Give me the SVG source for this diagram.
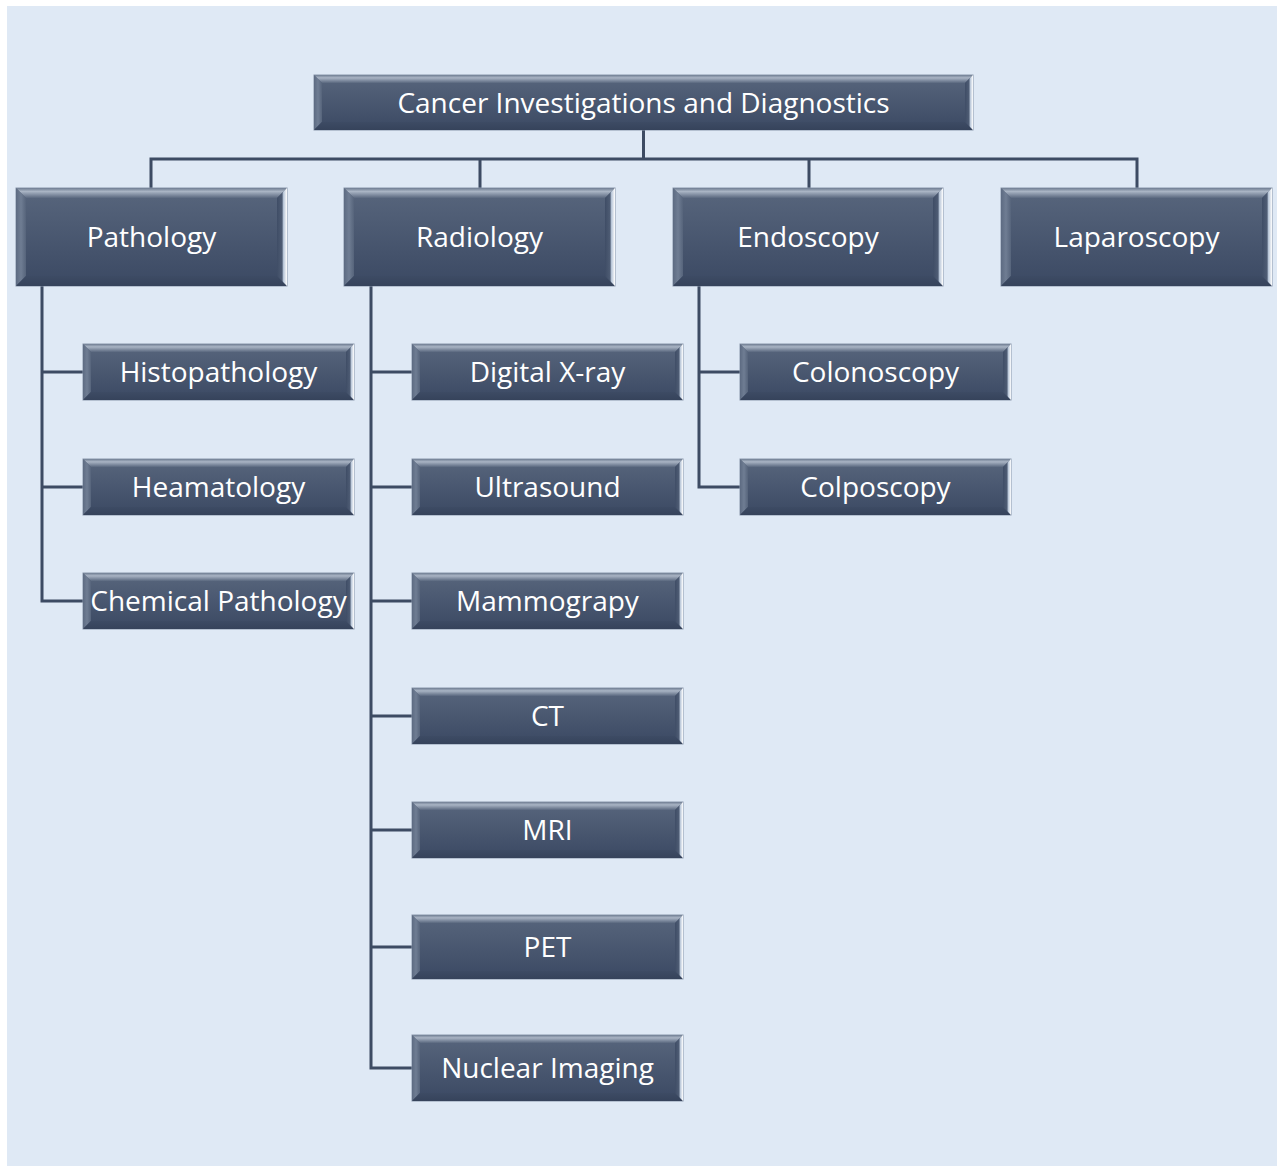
<svg xmlns="http://www.w3.org/2000/svg" width="1277" height="1167" viewBox="0 0 1277 1167">
<defs>
<linearGradient id="gMain" x1="0" y1="0" x2="0" y2="1">
<stop offset="0" stop-color="#58667d"/>
<stop offset="1" stop-color="#3b4963"/>
</linearGradient>
<linearGradient id="gTop" x1="0" y1="0" x2="0" y2="1">
<stop offset="0" stop-color="#6f7d92"/>
<stop offset="0.35" stop-color="#a9b4c4"/>
<stop offset="1" stop-color="#5a687f"/>
</linearGradient>
<linearGradient id="gLeft" x1="0" y1="0" x2="1" y2="0">
<stop offset="0" stop-color="#5d6b82"/>
<stop offset="0.5" stop-color="#6f7d93"/>
<stop offset="1" stop-color="#56647b"/>
</linearGradient>
<linearGradient id="gRight" x1="0" y1="0" x2="1" y2="0">
<stop offset="0" stop-color="#3f4d66"/>
<stop offset="0.5" stop-color="#4e5c74"/>
<stop offset="0.65" stop-color="#b8c6d8"/>
<stop offset="1" stop-color="#ffffff"/>
</linearGradient>
<linearGradient id="gBot" x1="0" y1="0" x2="0" y2="1">
<stop offset="0" stop-color="#3d4b64"/>
<stop offset="1" stop-color="#36435b"/>
</linearGradient>
</defs>
<style>
.bg{fill:#dfe9f5}
.main{fill:url(#gMain);stroke:#8a97ab;stroke-width:1}
.top{fill:url(#gTop)}
.left{fill:url(#gLeft)}
.right{fill:url(#gRight)}
.bot{fill:url(#gBot)}
.lbl{font-family:"Open Sans","Noto Sans","DejaVu Sans",sans-serif;font-size:28px;fill:#ffffff;text-anchor:middle}
.conn{fill:none;stroke:#3d4b63;stroke-width:3;stroke-linejoin:miter}
</style>
<rect x="0" y="0" width="1277" height="1167" fill="#ffffff"/>
<rect class="bg" x="7" y="6" width="1270" height="1160"/>

<g id="connectors">
<path class="conn" d="M643.5,130 V159 M151,188 V159 H1137 V188 M480,159 V188 M809,159 V188"/>
<path class="conn" d="M42,286 V601 H83 M42,372 H83 M42,487 H83"/>
<path class="conn" d="M371,286 V1068 H412 M371,372 H412 M371,487 H412 M371,601 H412 M371,716 H412 M371,830 H412 M371,947 H412"/>
<path class="conn" d="M699,286 V487 H740 M699,372 H740"/>
</g>

<g id="root">
<rect class="main" x="314" y="75" width="659" height="55"/>
<polygon class="top" points="314,75 973,75 965,83 322,83"/>
<polygon class="left" points="314,75 322,83 322,122 314,130"/>
<polygon class="bot" points="314,130 322,122 965,122 973,130"/>
<polygon class="right" points="973,75 965,83 965,122 973,130"/>
<text class="lbl" x="643.5" y="113">Cancer Investigations and Diagnostics</text>
</g>

<g id="pathology">
<rect class="main" x="16" y="188" width="271" height="98"/>
<polygon class="top" points="16,188 287,188 277,198 26,198"/>
<polygon class="left" points="16,188 26,198 26,276 16,286"/>
<polygon class="bot" points="16,286 26,276 277,276 287,286"/>
<polygon class="right" points="287,188 277,198 277,276 287,286"/>
<text class="lbl" x="151.5" y="247">Pathology</text>
</g>

<g id="radiology">
<rect class="main" x="344" y="188" width="271" height="98"/>
<polygon class="top" points="344,188 615,188 605,198 354,198"/>
<polygon class="left" points="344,188 354,198 354,276 344,286"/>
<polygon class="bot" points="344,286 354,276 605,276 615,286"/>
<polygon class="right" points="615,188 605,198 605,276 615,286"/>
<text class="lbl" x="479.5" y="247">Radiology</text>
</g>

<g id="endoscopy">
<rect class="main" x="673" y="188" width="270" height="98"/>
<polygon class="top" points="673,188 943,188 933,198 683,198"/>
<polygon class="left" points="673,188 683,198 683,276 673,286"/>
<polygon class="bot" points="673,286 683,276 933,276 943,286"/>
<polygon class="right" points="943,188 933,198 933,276 943,286"/>
<text class="lbl" x="808" y="247">Endoscopy</text>
</g>

<g id="laparoscopy">
<rect class="main" x="1001" y="188" width="271" height="98"/>
<polygon class="top" points="1001,188 1272,188 1262,198 1011,198"/>
<polygon class="left" points="1001,188 1011,198 1011,276 1001,286"/>
<polygon class="bot" points="1001,286 1011,276 1262,276 1272,286"/>
<polygon class="right" points="1272,188 1262,198 1262,276 1272,286"/>
<text class="lbl" x="1136.5" y="247">Laparoscopy</text>
</g>

<g id="histopathology">
<rect class="main" x="83" y="344" width="271" height="56"/>
<polygon class="top" points="83,344 354,344 346,352 91,352"/>
<polygon class="left" points="83,344 91,352 91,392 83,400"/>
<polygon class="bot" points="83,400 91,392 346,392 354,400"/>
<polygon class="right" points="354,344 346,352 346,392 354,400"/>
<text class="lbl" x="218.5" y="382">Histopathology</text>
</g>

<g id="heamatology">
<rect class="main" x="83" y="459" width="271" height="56"/>
<polygon class="top" points="83,459 354,459 346,467 91,467"/>
<polygon class="left" points="83,459 91,467 91,507 83,515"/>
<polygon class="bot" points="83,515 91,507 346,507 354,515"/>
<polygon class="right" points="354,459 346,467 346,507 354,515"/>
<text class="lbl" x="218.5" y="497">Heamatology</text>
</g>

<g id="chemical-pathology">
<rect class="main" x="83" y="573" width="271" height="56"/>
<polygon class="top" points="83,573 354,573 346,581 91,581"/>
<polygon class="left" points="83,573 91,581 91,621 83,629"/>
<polygon class="bot" points="83,629 91,621 346,621 354,629"/>
<polygon class="right" points="354,573 346,581 346,621 354,629"/>
<text class="lbl" x="218.5" y="611">Chemical Pathology</text>
</g>

<g id="digital-xray">
<rect class="main" x="412" y="344" width="271" height="56"/>
<polygon class="top" points="412,344 683,344 675,352 420,352"/>
<polygon class="left" points="412,344 420,352 420,392 412,400"/>
<polygon class="bot" points="412,400 420,392 675,392 683,400"/>
<polygon class="right" points="683,344 675,352 675,392 683,400"/>
<text class="lbl" x="547.5" y="382">Digital X-ray</text>
</g>

<g id="ultrasound">
<rect class="main" x="412" y="459" width="271" height="56"/>
<polygon class="top" points="412,459 683,459 675,467 420,467"/>
<polygon class="left" points="412,459 420,467 420,507 412,515"/>
<polygon class="bot" points="412,515 420,507 675,507 683,515"/>
<polygon class="right" points="683,459 675,467 675,507 683,515"/>
<text class="lbl" x="547.5" y="497">Ultrasound</text>
</g>

<g id="mammograpy">
<rect class="main" x="412" y="573" width="271" height="56"/>
<polygon class="top" points="412,573 683,573 675,581 420,581"/>
<polygon class="left" points="412,573 420,581 420,621 412,629"/>
<polygon class="bot" points="412,629 420,621 675,621 683,629"/>
<polygon class="right" points="683,573 675,581 675,621 683,629"/>
<text class="lbl" x="547.5" y="611">Mammograpy</text>
</g>

<g id="ct">
<rect class="main" x="412" y="688" width="271" height="56"/>
<polygon class="top" points="412,688 683,688 675,696 420,696"/>
<polygon class="left" points="412,688 420,696 420,736 412,744"/>
<polygon class="bot" points="412,744 420,736 675,736 683,744"/>
<polygon class="right" points="683,688 675,696 675,736 683,744"/>
<text class="lbl" x="547.5" y="726">CT</text>
</g>

<g id="mri">
<rect class="main" x="412" y="802" width="271" height="56"/>
<polygon class="top" points="412,802 683,802 675,810 420,810"/>
<polygon class="left" points="412,802 420,810 420,850 412,858"/>
<polygon class="bot" points="412,858 420,850 675,850 683,858"/>
<polygon class="right" points="683,802 675,810 675,850 683,858"/>
<text class="lbl" x="547.5" y="840">MRI</text>
</g>

<g id="pet">
<rect class="main" x="412" y="915" width="271" height="64"/>
<polygon class="top" points="412,915 683,915 675,923 420,923"/>
<polygon class="left" points="412,915 420,923 420,971 412,979"/>
<polygon class="bot" points="412,979 420,971 675,971 683,979"/>
<polygon class="right" points="683,915 675,923 675,971 683,979"/>
<text class="lbl" x="547.5" y="957">PET</text>
</g>

<g id="nuclear-imaging">
<rect class="main" x="412" y="1035" width="271" height="66"/>
<polygon class="top" points="412,1035 683,1035 675,1043 420,1043"/>
<polygon class="left" points="412,1035 420,1043 420,1093 412,1101"/>
<polygon class="bot" points="412,1101 420,1093 675,1093 683,1101"/>
<polygon class="right" points="683,1035 675,1043 675,1093 683,1101"/>
<text class="lbl" x="547.5" y="1078">Nuclear Imaging</text>
</g>

<g id="colonoscopy">
<rect class="main" x="740" y="344" width="271" height="56"/>
<polygon class="top" points="740,344 1011,344 1003,352 748,352"/>
<polygon class="left" points="740,344 748,352 748,392 740,400"/>
<polygon class="bot" points="740,400 748,392 1003,392 1011,400"/>
<polygon class="right" points="1011,344 1003,352 1003,392 1011,400"/>
<text class="lbl" x="875.5" y="382">Colonoscopy</text>
</g>

<g id="colposcopy">
<rect class="main" x="740" y="459" width="271" height="56"/>
<polygon class="top" points="740,459 1011,459 1003,467 748,467"/>
<polygon class="left" points="740,459 748,467 748,507 740,515"/>
<polygon class="bot" points="740,515 748,507 1003,507 1011,515"/>
<polygon class="right" points="1011,459 1003,467 1003,507 1011,515"/>
<text class="lbl" x="875.5" y="497">Colposcopy</text>
</g>
</svg>
